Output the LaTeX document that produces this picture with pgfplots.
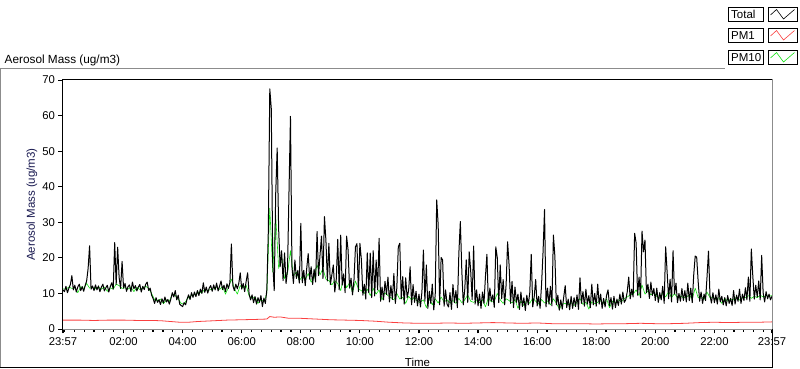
\documentclass[border=0pt]{standalone}
\usepackage{fontspec}
\setmainfont{Liberation Sans}
\usepackage{pgfplots}
\usepackage{pgfplotstable}
\pgfplotsset{compat=1.18}
\definecolor{pmred}{RGB}{250,64,64}
\definecolor{pmgreen}{RGB}{20,225,20}
\definecolor{labblue}{RGB}{25,25,80}
\definecolor{framegray}{RGB}{140,140,140}

% Total, every 0.05 h from -0.05 (23:57)
\pgfplotstableread[row sep=\\]{
v\\
11\\
10.5\\12\\10.2\\11.5\\12.5\\15\\11\\12.3\\10.4\\11.8\\12.6\\10.8\\11.9\\10.6\\12.2\\13.5\\17\\23.4\\11.2\\12.1\\
10.8\\12.4\\11\\12.1\\10.5\\11.8\\12.6\\10.7\\11.6\\12.3\\10.4\\11.9\\13\\11.2\\24.3\\12.5\\23\\14.5\\11.4\\19\\
11.5\\12.8\\10.6\\11.9\\12.4\\10.5\\13.2\\11.3\\12.2\\10.7\\11.8\\12.5\\10.4\\12\\11.1\\12.6\\13.2\\10.8\\11.5\\9.5\\
8.6\\7.2\\8.8\\7.5\\8.2\\6.9\\8.5\\7.3\\9.0\\7.6\\8.3\\7.0\\8.4\\10.2\\9.0\\10.8\\8.2\\9.5\\7.0\\6.6\\
6.3\\7.4\\6.8\\8.4\\9.6\\8.3\\10.2\\8.9\\10.4\\9.1\\10.8\\9.4\\11.2\\10\\13\\10.3\\11.8\\10.1\\11.5\\12.2\\
10.6\\12.4\\11\\12.9\\10.7\\12\\13.5\\11.1\\12.3\\10.5\\12.7\\11.4\\13.1\\23.9\\12.2\\10.8\\12.6\\11.3\\12.8\\15.8\\
11.2\\12.8\\10.5\\13.4\\15.8\\9.8\\8.2\\9.6\\7.4\\9.1\\7.0\\8.8\\7.5\\9.4\\6.3\\8.7\\7.2\\11\\27.4\\67.5\\
62\\18.5\\10.8\\38\\50.9\\28\\17.5\\22\\13.6\\21.4\\12.8\\16.5\\38.6\\59.8\\17.5\\12.8\\19.4\\14.2\\16.5\\12.9\\
29.7\\13\\16.5\\12.2\\17\\21.2\\14\\17.5\\12.5\\16.8\\13.2\\27.4\\15\\20.8\\26.1\\14.2\\31.6\\24.9\\13.5\\24.1\\
12.5\\15.2\\18\\10.4\\14\\25.2\\11\\26.4\\12.3\\15.5\\10.2\\26.1\\22.2\\11.5\\14.3\\9.6\\13.8\\23.1\\24\\10.5\\
24.1\\19.5\\9.5\\12.6\\8.4\\21.4\\10.2\\21.3\\8.8\\22\\9.3\\19.4\\11\\25.5\\7.8\\11.8\\8.2\\13.4\\9.7\\14.6\\
7.6\\12.2\\8.3\\15.6\\7.2\\11.5\\23.1\\24.1\\8.5\\14.7\\7\\14.4\\8.8\\10.9\\17.5\\6.8\\12.5\\7.5\\10.6\\6.5\\
9.8\\6.2\\10.5\\22.2\\7.8\\18\\5.8\\10.6\\7.2\\12.6\\5.4\\9.6\\36.3\\29.2\\6.8\\20.1\\19.4\\6.4\\11\\7\\
6.2\\10.2\\5.5\\12.5\\7.4\\10.8\\6\\21.3\\30.2\\16.4\\6.8\\11.2\\19.4\\7.5\\21.7\\16.4\\8.2\\23.3\\7\\11\\
6.5\\9.8\\5.8\\10.4\\7.2\\14.7\\21\\6.6\\11.5\\7.8\\9.6\\6.1\\23.1\\20.1\\7.4\\18\\8.5\\13.9\\6.8\\12.5\\
24.5\\18\\7.2\\13.4\\6\\11.8\\7.5\\9.8\\5.5\\10.4\\6.3\\8.8\\5.2\\9.5\\6.8\\10.2\\21\\6.2\\9\\13.9\\
6.5\\9.2\\5.8\\12.6\\21.7\\33.6\\6.2\\11.5\\7\\12\\6.5\\26.4\\20.5\\6.8\\9.5\\5.3\\8.2\\5.6\\9\\12.2\\
6\\8.4\\5.4\\9.2\\5.8\\8.8\\6.3\\9.6\\5.5\\14.4\\7.2\\10.5\\6.4\\11.2\\7\\9.4\\6\\12.6\\6.8\\10\\
6.4\\12.6\\7\\9.8\\5.8\\8.6\\6.2\\9.5\\11\\6.5\\8.8\\5.6\\9.2\\6\\8.4\\6.6\\9.8\\7\\10.4\\7.5\\
8.2\\10.5\\14.6\\8.5\\11.2\\9\\26.9\\24.2\\9.5\\14.6\\8.8\\27.5\\21.7\\25\\10.2\\12.6\\8.6\\13.2\\9.4\\11.4\\
8\\11.5\\7.5\\10.2\\8.2\\12\\7.2\\23.1\\16\\8.5\\14\\7.6\\22\\9.8\\12.9\\7.4\\10\\7.8\\11.4\\8\\
10.8\\7.6\\12.9\\8\\11.5\\7.4\\15.2\\20.5\\20.2\\13.4\\7.8\\10.4\\7.2\\9.8\\8\\14.6\\21.9\\9.5\\7.3\\10.2\\
7.4\\9.6\\7\\11.2\\7.6\\9.2\\6.8\\8.8\\6.5\\9.4\\7.2\\8.6\\6.6\\10.8\\7\\9.5\\7.8\\11.2\\7.2\\9.8\\
8\\11.6\\8.2\\14.6\\7.8\\22.5\\14.9\\8.4\\12.3\\9\\13.5\\8.2\\20.7\\10.2\\7.6\\10.5\\8.5\\9.8\\8.2\\9.2\\
}\totaltab

% PM10, every 0.1 h from -0.05
\pgfplotstableread[row sep=\\]{
v\\
11.3\\
11.2\\11.8\\11.4\\11.6\\10.2\\11.9\\11.4\\12.8\\11.5\\11.7\\
11.3\\11.8\\11.2\\11.8\\10.6\\11.6\\11.2\\12.6\\12.2\\11.4\\
11.6\\11.2\\11.8\\10.5\\11.7\\11.1\\11.5\\12\\11.4\\10\\
8.2\\8\\8.4\\7.1\\8.2\\7.8\\9.8\\9.4\\8.4\\7.2\\
7\\8.4\\9.2\\9.5\\9.8\\10.4\\10.2\\11.2\\10.8\\11.1\\
11.3\\11.8\\11.1\\11.9\\9.8\\11.7\\14\\11.5\\9.8\\12.2\\
11.5\\12.3\\9.3\\8.6\\9\\7.2\\8.3\\7.6\\10\\34\\
16\\32\\17\\20.5\\14.2\\15.6\\22\\14.8\\16\\13.6\\
14.8\\13.8\\15.6\\13.2\\14.4\\18\\15.2\\17\\14\\13.6\\
12.4\\13.6\\12.8\\10.8\\14.4\\11.6\\13\\10.2\\13.5\\11.2\\
10.8\\10\\11.2\\9.4\\11.4\\9.8\\11\\8.2\\10.2\\9.4\\
8.8\\8.2\\10\\8.4\\8.9\\7.2\\9.2\\8.1\\9\\7.6\\
7.6\\8.2\\6\\8.6\\6.8\\8.5\\7.3\\9\\7.6\\8.2\\
7.3\\8\\7.2\\8.6\\7.4\\8.2\\9.6\\7.8\\7.5\\8\\
7.4\\8.2\\6.2\\8.8\\7.6\\7.8\\10\\8.2\\7.2\\8.5\\
8\\7.3\\8.3\\5.8\\7.8\\6.6\\8\\7.2\\8.7\\7.8\\
7\\8.3\\7.3\\7.9\\6.8\\8.5\\7.2\\5.6\\7\\7.2\\
6.8\\7.4\\6.6\\7.5\\8.5\\6.9\\7.5\\5.6\\7.7\\7.1\\
7.5\\8\\7.2\\8.5\\6\\7.8\\7.4\\8.2\\7.6\\8.5\\
9\\9.6\\9.8\\11\\9.4\\12.4\\9.8\\10.7\\9.6\\10.2\\
9.2\\8.6\\10.2\\9\\10.6\\8.8\\10\\8.7\\9.3\\8.8\\
9\\9.5\\8.4\\11.5\\8.8\\9.2\\8.3\\10.4\\8.8\\9\\
8.3\\8.8\\7.2\\8.6\\7.8\\8.4\\8.2\\9\\8.1\\8.8\\
8.8\\9.4\\8.6\\9.2\\8.8\\9.5\\9\\9.4\\9.2\\9.4\\
}\pmtentab

\begin{document}
\begin{tikzpicture}[x=1pt,y=1pt]
\begin{axis}[
  at={(63pt,40pt)}, anchor=south west,
  scale only axis, width=709pt, height=249pt,
  xmin=-0.05, xmax=23.95, ymin=0, ymax=70,
  axis line style={draw=none},
  xtick pos=bottom, ytick pos=left,
  tick align=outside,
  ytick={0,10,...,70},
  xtick={-0.05,2,4,...,22,23.95},
  xticklabels={23:57,02:00,04:00,06:00,08:00,10:00,12:00,14:00,16:00,18:00,20:00,22:00,23:57},
  minor xtick={0,0.3333,...,23.8},
  x tick style={black},
  y tick style={black},
  xtick style={line width=1.2pt},
  minor tick style={line width=0.7pt},
  ytick style={line width=0.8pt},
  major tick length=4.5pt,
  minor tick length=2.8pt,
  /pgf/number format/assume math mode=true,
  tick label style={font=\fontsize{11.3}{13}\selectfont, text=black},
  xticklabel style={yshift=-1pt},
  ylabel={Aerosol Mass (ug/m3)},
  ylabel style={at={(axis description cs:-0.0437,0.5)}, anchor=center, font=\fontsize{11.5}{13}\selectfont, text=labblue},
  xlabel={Time},
  xlabel style={at={(axis description cs:0.5,-0.133)}, anchor=center, font=\fontsize{11.5}{13}\selectfont, text=black},
  clip=true,
]
\addplot[pmgreen, line width=0.6pt, line join=round] table[x expr={\coordindex*0.1-0.05}, y=v] {\pmtentab};
\addplot[black, line width=1pt, line join=round] table[x expr={\coordindex*0.05-0.05}, y=v] {\totaltab};
\addplot[pmred, line width=0.8pt] coordinates {
(-0.05,2.5)(0.5,2.5)(1,2.4)(1.5,2.5)(2,2.5)(2.5,2.4)(3,2.4)(3.3,2.3)(3.6,2.1)(3.9,1.9)(4.2,1.9)(4.5,2.1)(5.0,2.3)(5.5,2.5)(6.0,2.6)(6.5,2.7)(6.85,2.8)(6.95,3.5)(7.1,3.3)(7.3,3.4)(7.6,3.0)(8.0,3.0)(8.5,2.8)(9.0,2.6)(9.5,2.5)(10,2.4)(10.5,2.2)(11,1.9)(11.5,1.7)(12,1.6)(12.5,1.6)(13,1.7)(13.5,1.6)(14,1.7)(14.5,1.8)(15,1.7)(15.5,1.6)(16,1.7)(16.5,1.5)(17,1.5)(17.5,1.5)(18,1.4)(18.5,1.5)(19,1.5)(19.5,1.6)(20,1.5)(20.5,1.5)(21,1.6)(21.5,1.8)(22,1.9)(22.5,1.8)(23,1.9)(23.5,1.9)(23.95,2.0)};
\end{axis}
% plot frame
\draw[black, line width=1pt] (62.5,40) -- (62.5,289.5) -- (772.5,289.5);
\draw[framegray, line width=1pt] (62.5,39.5) -- (772.5,39.5) -- (772.5,289.5);
% outer frame
\draw[framegray, line width=1pt] (0.5,1) -- (0.5,300) -- (725,300);
\draw[black, line width=1pt] (0,1.5) -- (772.5,1.5) -- (772.5,40);
% title
\node[anchor=base west, inner sep=0pt, font=\fontsize{11.8}{13}\selectfont, text=black] at (4.5,305.7) {Aerosol Mass (ug/m3)};
% legend
\foreach \yb/\lab/\col in {348/Total/black, 327/PM1/pmred, 305/PM10/pmgreen}{
  \draw[black, line width=0.8pt] (728.5,\yb) rectangle (763.5,\yb+13.5);
  \node[anchor=west, inner sep=0pt, font=\fontsize{11.5}{13}\selectfont] at (731,\yb+6.5) {\lab};
  \draw[black, line width=0.8pt] (768.5,\yb) rectangle (797,\yb+13.5);
  \draw[\col, line width=0.6pt] (770.5,\yb+6) -- (776.5,\yb+11.5) -- (783.5,\yb+2) -- (794.5,\yb+11.5);
}
\pgfresetboundingbox
\path[use as bounding box] (0,0) rectangle (800,369);
\end{tikzpicture}
\end{document}
